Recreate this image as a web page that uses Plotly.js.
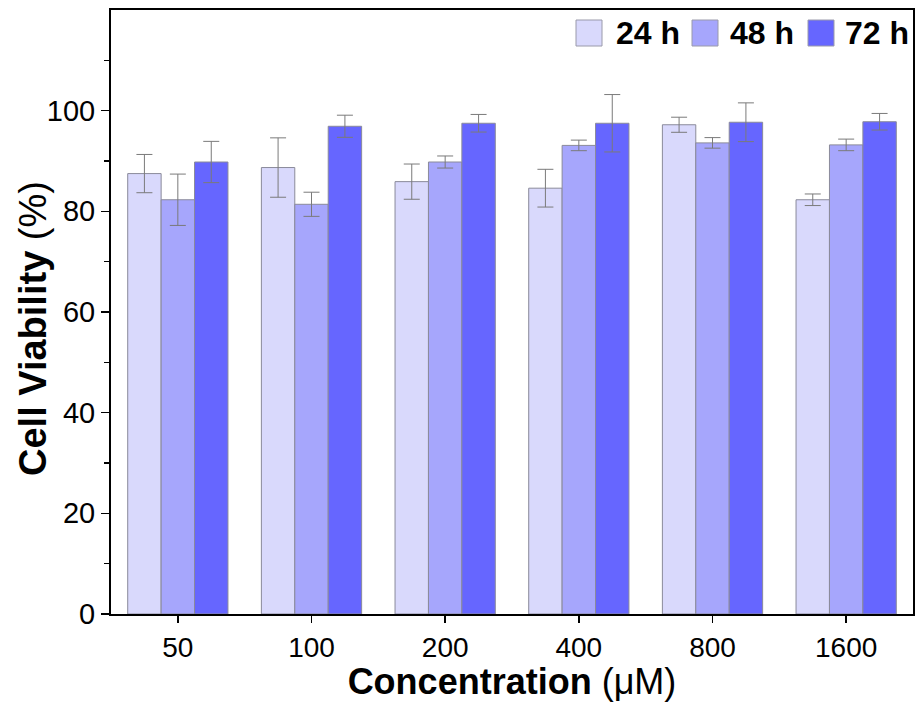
<!DOCTYPE html>
<html>
<head>
<meta charset="utf-8">
<script src="https://cdn.plot.ly/plotly-3.0.1.min.js"></script>
<style>html,body{margin:0;padding:0;background:#fff;}#chart{width:915px;height:702px;}</style>
</head>
<body>
<div id="chart"></div>
<script>
const categories = ["50", "100", "200", "400", "800", "1600"];
const seriesNames = ["24 h", "48 h", "72 h"];
const values24 = [87.5, 88.7, 85.9, 84.6, 97.2, 82.3];
const errors24 = [3.8, 5.9, 3.5, 3.75, 1.5, 1.15];
const values48 = [82.3, 81.4, 89.8, 93.1, 93.6, 93.2];
const errors48 = [5.1, 2.4, 1.2, 1.05, 1.05, 1.15];
const values72 = [89.8, 96.9, 97.5, 97.5, 97.7, 97.8];
const errors72 = [4.1, 2.2, 1.75, 5.7, 3.85, 1.65];
const yTickVals = [0, 20, 40, 60, 80, 100];
const yMinorVals = [10, 30, 50, 70, 90, 110];

const colors = ["#d9d9fc", "#a6a6fc", "#6666ff"];
const allValues = [values24, values48, values72];
const allErrors = [errors24, errors48, errors72];

const traces = seriesNames.map((name, i) => ({
  type: "bar",
  name: name,
  x: categories,
  y: allValues[i],
  showlegend: false,
  marker: {color: colors[i], line: {color: "#8a8a9a", width: 1}},
  error_y: {type: "data", array: allErrors[i], visible: true, color: "#7a7a7a", thickness: 1, width: 8}
}));

// Legend drawn as swatches + text (larger swatches than Plotly's built-in bar legend)
const M = {l: 111, r: 2, t: 10, b: 88};
const W = 915, H = 702;
const pw = W - M.l - M.r, ph = H - M.t - M.b;
const px = x => (x - M.l) / pw;
const py = y => (H - M.b - y) / ph;
const legendSwatchLeft = [576, 692, 808];
const legendTextLeft = [614, 728, 843];
const shapes = [], annotations = [];
seriesNames.forEach((name, i) => {
  shapes.push({type: "rect", xref: "paper", yref: "paper",
    x0: px(legendSwatchLeft[i]), x1: px(legendSwatchLeft[i] + 26),
    y0: py(46), y1: py(20),
    fillcolor: colors[i], line: {color: "#9a9aaa", width: 1}});
  annotations.push({xref: "paper", yref: "paper", x: px(legendTextLeft[i]), y: py(33),
    xanchor: "left", yanchor: "middle", showarrow: false, text: "<b>" + name + "</b>",
    font: {size: 32, family: "Liberation Sans, Arial, sans-serif", color: "#000"}});
});
// Y-axis title (placed as a rotated annotation to match the reference position)
annotations.push({xref: "paper", yref: "paper", x: px(33), y: py(329),
  xanchor: "center", yanchor: "middle", showarrow: false, textangle: -90,
  text: "<b>Cell Viability</b> (%)",
  font: {size: 38, family: "Liberation Sans, Arial, sans-serif", color: "#000"}});

const layout = {
  width: W, height: H,
  margin: M,
  paper_bgcolor: "#fff", plot_bgcolor: "#fff",
  barmode: "group", bargap: 0.25, bargroupgap: 0,
  font: {family: "Liberation Sans, Arial, sans-serif", color: "#000"},
  showlegend: false,
  shapes: shapes,
  annotations: annotations,
  xaxis: {
    type: "category", range: [-0.5, 5.5],
    showline: true, linecolor: "#000", linewidth: 2, mirror: true,
    ticks: "outside", ticklen: 7, tickwidth: 1.5, tickcolor: "#000",
    tickfont: {size: 28, family: "Liberation Sans Narrow, Liberation Sans, Arial, sans-serif"},
    showgrid: false, zeroline: false,
    title: {text: "<b>Concentration</b> (μM)", font: {size: 36, family: "Liberation Sans, Arial, sans-serif"}, standoff: 5}
  },
  yaxis: {
    range: [0, 120], tickvals: yTickVals, ticktext: yTickVals.map(String),
    showline: true, linecolor: "#000", linewidth: 2, mirror: true,
    ticks: "outside", ticklen: 8, tickwidth: 1.5, tickcolor: "#000",
    tickfont: {size: 29},
    minor: {tickvals: yMinorVals, ticks: "outside", ticklen: 5, tickwidth: 1.5, tickcolor: "#000", showgrid: false},
    showgrid: false, zeroline: false
  }
};

Plotly.newPlot("chart", traces, layout, {displayModeBar: false, staticPlot: true});
</script>
</body>
</html>
